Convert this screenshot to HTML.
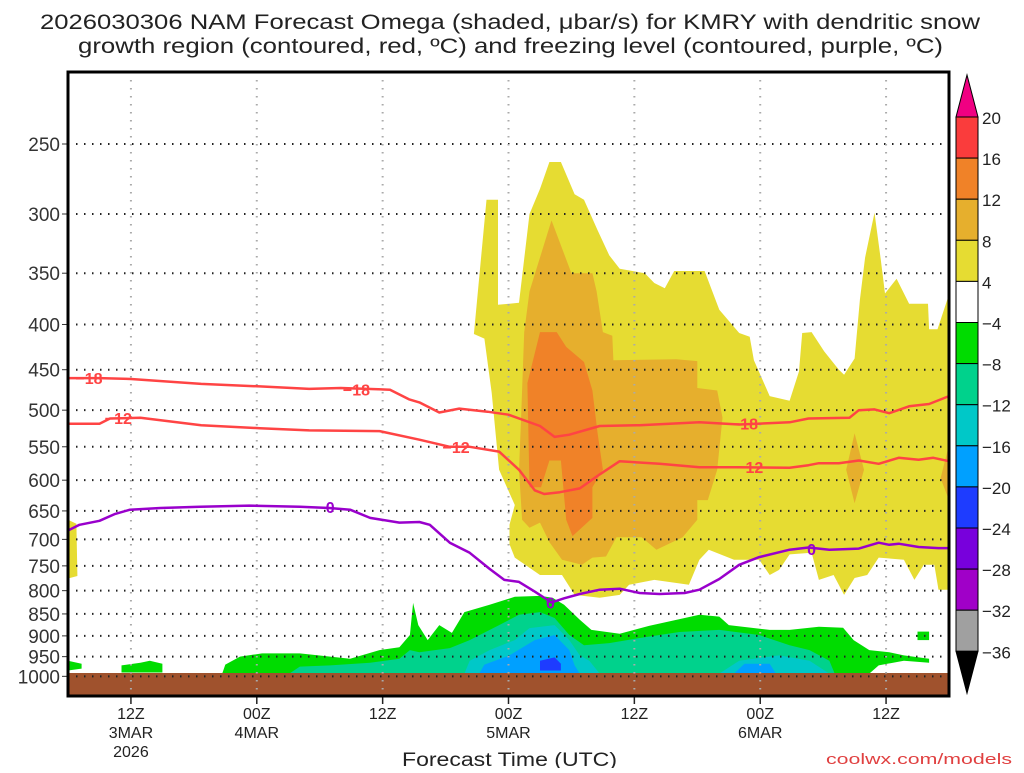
<!DOCTYPE html>
<html><head><meta charset="utf-8"><style>
body{margin:0;background:#fff;}
svg text{font-family:"Liberation Sans",sans-serif;}
</style></head><body>
<svg id="chart" width="1024" height="768" xmlns="http://www.w3.org/2000/svg">
<text x="40" y="29" font-size="21" textLength="940" lengthAdjust="spacingAndGlyphs" fill="#222">2026030306 NAM Forecast Omega (shaded, μbar/s) for KMRY with dendritic snow</text>
<text x="78" y="53" font-size="21" textLength="865" lengthAdjust="spacingAndGlyphs" fill="#222">growth region (contoured, red, ºC) and freezing level (contoured, purple, ºC)</text>
<g id="plot"></g>
<text x="402" y="766" font-size="19" textLength="215" lengthAdjust="spacingAndGlyphs" fill="#222">Forecast Time (UTC)</text>
<text x="826" y="764" font-size="15" textLength="186" lengthAdjust="spacingAndGlyphs" fill="#e04040">coolwx.com/models</text>
<g id="cbar"></g>
</svg>
<script>
const levels=[250,300,350,400,450,500,550,600,650,700,750,800,850,900,950,1000];
const timeTicks=[6,18,30,42,54,66,78];
const timeLabels=[["12Z","3MAR","2026"],["00Z","4MAR"],["12Z"],["00Z","5MAR"],["12Z"],["00Z","6MAR"],["12Z"]];
const cbarLabels=["20","16","12","8","4","\u22124","\u22128","\u221212","\u221216","\u221220","\u221224","\u221228","\u221232","\u221236"];
const cbarColors=["#fa3c3c","#f08228","#e6af2d","#e6dc32","#ffffff","#00dc00","#00d28c","#00c8c8","#00a0ff","#1e3cff","#7800dc","#a000c8","#a0a0a0"];
const yellowMain=[[38.7,410],[39.9,289],[41,289],[41,380],[43,378],[44,300],[45,281],[45.9,262],[47,262],[48.3,285],[49.2,289],[50.5,313],[51.6,334],[52.6,346],[55,350],[55.9,359],[56.9,364],[57.8,348],[60.7,348],[62.1,385],[64,409],[65,413],[65.4,439],[66.9,482],[68.8,488],[69.7,452],[70,409],[70.9,408],[72.1,429],[73.5,450],[74,456],[75,437],[75.5,375],[76,336],[76.9,299],[77.5,338],[77.9,369],[79,355],[80.2,379],[82,379],[82.1,405],[82.9,405],[84,370],[84,798],[83,798],[82.6,748],[81.6,748],[80.7,778],[79.7,738],[77.3,734],[76.2,768],[75,774],[74,809],[73,768],[71.6,778],[70.9,725],[68.8,728],[67.8,758],[66.9,768],[65.9,738],[63.5,738],[61.1,719],[60.2,738],[59.2,788],[55.9,778],[53.5,788],[52.6,809],[50.7,815],[48.3,809],[47.1,768],[45,768],[42.6,734],[42.1,709],[42.1,674],[42.6,640],[41.1,584],[40.4,478],[39.7,415]];
const yellowLeft=[[0,665],[0.8,672],[0.9,770],[0,775]];
const orange8=[[46.1,305],[48,350],[50,350],[50.4,367],[51,408],[51.9,412],[52,439],[58,438],[60,440],[60,472],[61.9,475],[62.4,510],[61.9,584],[61,632],[60,632],[60,665],[58.6,696],[56.1,719],[54.7,696],[52.3,696],[51.3,732],[50,734],[49,748],[47.1,738],[45.9,705],[45,670],[44,679],[43.3,665],[43,584],[43.2,510],[43.5,408],[44,367],[45,336]];
const orange8b=[[75,531],[75.9,584],[75,637],[74.2,584]];
const orange8c=[[84,547],[83.2,597],[84,632]];
const orange12=[[46.6,408],[47.5,424],[49.2,441],[50,475],[50.5,531],[51,584],[50,611],[50,662],[48.1,694],[47.5,665],[47,570],[45.9,570],[45.1,611],[44,611],[43.8,466],[45,408]];
const greenA=[[0,960],[1.3,968],[1.3,980],[0,985]];
const greenB=[[5.1,972],[6.9,965],[7.8,960],[9,968],[9,990],[5.1,990]];
const greenMain=[[14.7,993],[15,970],[16.4,950],[18.5,942],[22.1,942],[25,950],[26.9,955],[29.7,934],[31.6,927],[32.6,898],[32.9,826],[33.4,875],[34.3,910],[35.4,875],[36.6,893],[37.8,846],[40.2,830],[42.6,813],[45,811],[46.2,815],[47.3,830],[48.8,863],[49.9,886],[52.6,895],[55.4,877],[60.2,852],[62.1,856],[63,875],[66.9,886],[68.8,886],[71.6,879],[73.9,881],[74.9,910],[76.4,934],[78.3,939],[79.7,947],[82.1,955],[82.1,965],[79.7,960],[77.3,972],[76.4,993]];
const greenSq=[[81,890],[82.1,890],[82.1,910],[81,910]];
const tealMain=[[21.1,993],[22.1,975],[25,972],[28.8,965],[31.6,955],[32.6,934],[33.5,939],[36.4,929],[38.3,910],[41.1,875],[43,852],[45,846],[46.4,859],[47.8,898],[49.2,922],[51.6,917],[54.5,905],[58.3,891],[62.1,886],[65.9,898],[68.8,922],[70.7,934],[72.6,960],[73.1,993]];
const cyanA=[[37.8,993],[38.3,960],[40.2,934],[42.6,910],[44,882],[46.4,875],[47.8,910],[48.8,947],[49.7,960],[50.7,993]];
const cyanB=[[62.1,993],[64,960],[67.8,947],[70.7,960],[72.6,993]];
const blueA=[[39.2,993],[39.7,970],[42.1,947],[44.5,910],[46.4,898],[47.8,934],[48.3,972],[48.8,993]];
const blueB=[[63.5,993],[64.5,968],[66.9,968],[67.5,993]];
const darkBlue=[[45,960],[46.4,952],[47,968],[47,985],[45,985]];
const hoursM18=[0,3,6,12.7,18.3,23,26,30.7,32.5,33.5,35.4,37.3,40,42,45,46.4,47.8,50.7,54.5,60.2,64,68.8,70.6,74.5,75.4,76.9,78.3,80.2,82.1,84];
const presM18=[460,460,461,467,470,473,472,474,486,490,503,498,502,506,521,536,533,521,520,516,519,516,511,510,500,499,504,495,492,482];
const hoursM12=[0,3,4,6.9,12.7,18.3,23,29.7,33.5,36.4,38.3,41.1,43,44.5,45.4,46.9,48.8,50.7,52.6,56.4,60.2,64,68.8,70.6,71.6,73.5,75.4,77.3,79.2,81.1,82.5,84];
const presM12=[518,518,511,510,520,524,527,528,540,550,550,557,584,616,622,619,613,591,571,575,580,580,581,577,574,574,570,575,566,569,566,571];
const hoursZero=[0,1.1,3,4.5,5.9,8.8,12.6,17.3,22.1,24.9,26.9,28.8,31.6,33.5,34.5,36.4,38.3,40.2,41.6,43,44.5,46.1,47.3,48.8,50.7,52.6,54.5,56.4,58.8,60.2,62.1,64,65.9,68.8,70.6,72.6,75.4,77.3,78.3,79.2,81.1,83,84];
const presZero=[684,674,667,655,648,645,643,641,643,645,648,662,670,669,674,706,725,756,778,782,802,825,816,807,798,796,805,807,805,798,776,748,733,719,715,719,717,706,710,708,714,716,716];
const labelsM18=[[2,460],[27.5,474],[64.5,518]];
const labelsM12=[[4.8,510],[37,550],[65,580]];
const labelsZero=[[25,643],[46,825],[70.9,718]];

const X0=68,X1=949,Y0=72,Y1=696;
const xs=h=>X0+h*(X1-X0)/84;
const ys=p=>144+384*Math.log(p/250);
const NS="http://www.w3.org/2000/svg";
const plot=document.getElementById('plot');
function mk(tag,attrs,parent){const e=document.createElementNS(NS,tag);for(const k in attrs)e.setAttribute(k,attrs[k]);(parent||plot).appendChild(e);return e;}
function poly(data,fill,name){const e=mk('polygon',{points:data.map(d=>xs(d[0]).toFixed(1)+','+ys(d[1]).toFixed(1)).join(' '),fill:fill});

}
poly(yellowMain,"#e6dc32","omega-4-8-main");
poly(yellowLeft,"#e6dc32","omega-4-8-left");
poly(orange8,"#e6af2d","omega-8-12-main");
poly(orange8b,"#e6af2d","omega-8-12-oval");
poly(orange8c,"#e6af2d","omega-8-12-edge");
poly(orange12,"#f08228","omega-12-16");
poly(greenA,"#00dc00","omega-neg4-a");
poly(greenB,"#00dc00","omega-neg4-b");
poly(greenMain,"#00dc00","omega-neg4-main");
poly(greenSq,"#00dc00","omega-neg4-square");
poly(tealMain,"#00d28c","omega-neg8");
poly(cyanA,"#00c8c8","omega-neg12-a");
poly(cyanB,"#00c8c8","omega-neg12-b");
poly(blueA,"#00a0ff","omega-neg16-a");
poly(blueB,"#00a0ff","omega-neg16-b");
poly(darkBlue,"#1e3cff","omega-neg20");
const g=mk('rect',{x:X0,y:673,width:X1-X0,height:Y1-673,fill:"#a0522d"});


levels.forEach(p=>{const l=mk('line',{x1:X0,x2:X1,y1:ys(p),y2:ys(p),stroke:"#222","stroke-width":2,"stroke-dasharray":"1.5 6.5"});


const t=mk('line',{x1:X0-6,x2:X0,y1:ys(p),y2:ys(p),stroke:"#333","stroke-width":1});


const tx=mk('text',{x:60,y:ys(p)+7,"font-size":19,"text-anchor":"end",fill:"#333"});tx.textContent=p;

});
timeTicks.forEach((h,i)=>{const l=mk('line',{x1:xs(h),x2:xs(h),y1:Y0,y2:Y1,stroke:"#aaa","stroke-width":2,"stroke-dasharray":"1.5 6.5"});


const t=mk('line',{x1:xs(h),x2:xs(h),y1:Y1,y2:Y1+8,stroke:"#222","stroke-width":1.5});


timeLabels[i].forEach((s,j)=>{const tx=mk('text',{x:xs(h),y:Y1+23+j*19,"font-size":16,"text-anchor":"middle",fill:"#222"});tx.textContent=s;

});});
function line(hs,ps,color,name){const e=mk('polyline',{points:hs.map((h,i)=>xs(h).toFixed(1)+','+ys(ps[i]).toFixed(1)).join(' '),fill:"none",stroke:color,"stroke-width":2.5,"stroke-linejoin":"round"});

}
line(hoursM18,presM18,"#ff4444","contour-minus18");
line(hoursM12,presM12,"#ff4444","contour-minus12");
line(hoursZero,presZero,"#9900cc","contour-freezing-0");
function labs(arr,txt,color,name){arr.forEach(d=>{const t=mk('text',{x:xs(d[0]),y:ys(d[1])+6,"font-size":16,"font-weight":"bold","text-anchor":"middle",fill:color});t.textContent=txt;

});}
labs(labelsM18,"\u221218","#ff4444","contour-label-minus18");
labs(labelsM12,"\u221212","#ff4444","contour-label-minus12");
labs(labelsZero,"0","#9900cc","contour-label-zero");
const fr=mk('rect',{x:X0,y:Y0,width:X1-X0,height:Y1-Y0,fill:"none",stroke:"#000","stroke-width":3});


const cb=document.getElementById('cbar');
const bx=956,bw=22,bt=117,bh=41.1;
cbarColors.forEach((c,i)=>{const r=mk('rect',{x:bx,y:bt+i*bh,width:bw,height:bh,fill:c,stroke:"#000","stroke-width":1},cb);

});
cbarLabels.forEach((s,i)=>{const t=mk('text',{x:982,y:bt+i*bh+7,"font-size":17,fill:"#222"},cb);t.textContent=s;

});
const up=mk('polygon',{points:`${bx},${bt} ${bx+bw/2},75 ${bx+bw},${bt}`,fill:"#f00082",stroke:"#000","stroke-width":1},cb);


const yb=bt+13*bh;
const dn=mk('polygon',{points:`${bx},${yb} ${bx+bw/2},${yb+42} ${bx+bw},${yb}`,fill:"#000",stroke:"#000","stroke-width":1},cb);


</script>
</body></html>
